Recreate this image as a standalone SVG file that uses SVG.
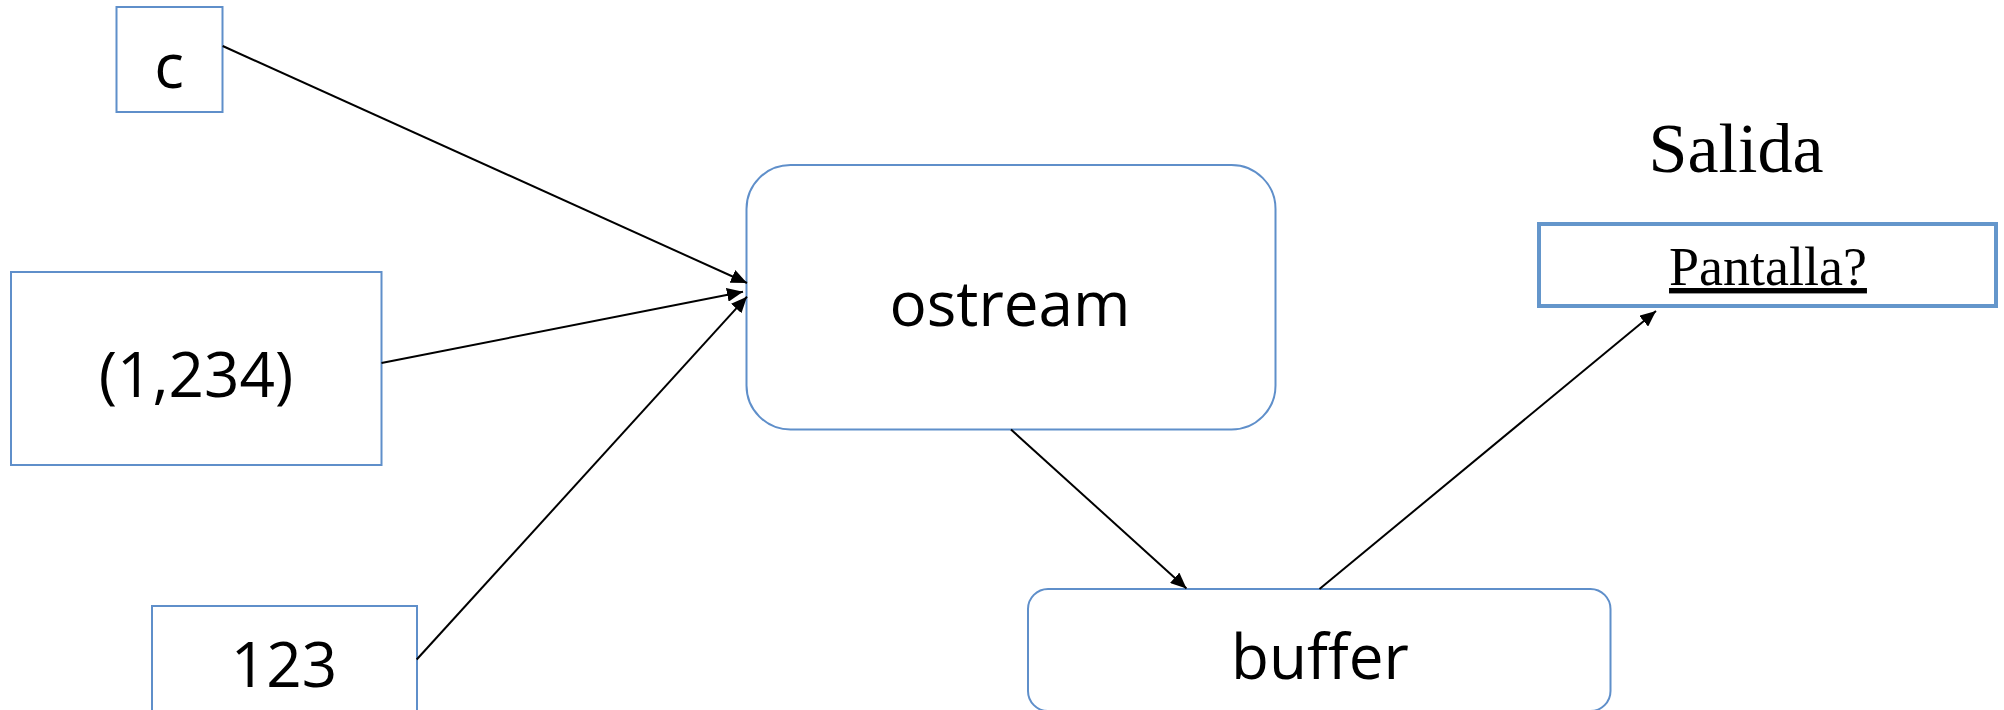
<svg xmlns="http://www.w3.org/2000/svg" width="2004" height="710" viewBox="0 0 2004 710">
  <style>
    .box { fill: #ffffff; stroke: #5f8fca; stroke-width: 2; }
    .thick { stroke: #6496cb; stroke-width: 4; }
    .lbl { font-family: "Open Sans", "Liberation Sans", sans-serif; font-size: 62px; fill: #000; text-anchor: middle; }
    .serif { font-family: "Liberation Serif", "DejaVu Serif", serif; fill: #000; text-anchor: middle; }
    .wire { stroke: #000; stroke-width: 2; fill: none; marker-end: url(#arrow); }
  </style>
  <defs>
    <marker id="arrow" markerUnits="userSpaceOnUse" markerWidth="16" markerHeight="14" refX="16" refY="7" orient="auto">
      <path d="M0,0 L16,7 L0,14 z" fill="#000"/>
    </marker>
  </defs>
  <rect width="2004" height="710" fill="#ffffff"/>

  <!-- input values -->
  <g id="node-c">
    <rect class="box" x="116.5" y="7" width="106" height="105"/>
    <text class="lbl" x="169" y="88">c</text>
  </g>
  <g id="node-pair">
    <rect class="box" x="11" y="272" width="370.5" height="193"/>
    <text class="lbl" x="196" y="397">(1,234)</text>
  </g>
  <g id="node-123">
    <rect class="box" x="152" y="606" width="265" height="120"/>
    <text class="lbl" x="284" y="687">123</text>
  </g>

  <!-- stream and buffer -->
  <g id="node-ostream">
    <rect class="box" x="746.5" y="165" width="529" height="264.5" rx="44" ry="44"/>
    <text class="lbl" x="1010" y="326">ostream</text>
  </g>
  <g id="node-buffer">
    <rect class="box" x="1028" y="589" width="582.5" height="122" rx="20" ry="20"/>
    <text class="lbl" x="1320" y="679">buffer</text>
  </g>

  <!-- output device -->
  <g id="node-salida">
    <text class="serif" x="1736" y="172" font-size="70">Salida</text>
    <rect class="box thick" x="1539" y="224" width="457" height="82"/>
    <text class="serif" x="1768" y="285" font-size="54" style="text-decoration: underline;">Pantalla?</text>
  </g>

  <g id="connectors">
    <line class="wire" x1="222.7" y1="46" x2="747" y2="283"/>
    <line class="wire" x1="381.5" y1="363" x2="743" y2="291.7"/>
    <line class="wire" x1="416.7" y1="659.5" x2="747" y2="296.7"/>
    <line class="wire" x1="1011" y1="429.5" x2="1186.5" y2="588.5"/>
    <line class="wire" x1="1319.5" y1="589" x2="1656" y2="311"/>
  </g>
</svg>
